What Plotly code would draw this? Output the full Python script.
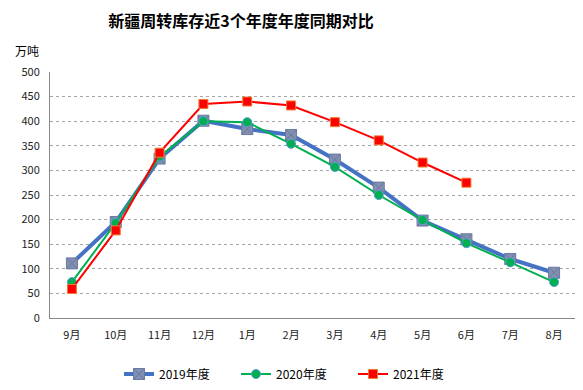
import plotly.graph_objects as go

months = ["9月", "10月", "11月", "12月", "1月", "2月", "3月", "4月", "5月", "6月", "7月", "8月"]
y2019 = [111, 195, 324, 401, 384, 372, 322, 265, 198, 160, 120, 92]
y2020 = [73, 193, 328, 400, 398, 354, 307, 250, 199, 152, 113, 73]
y2021 = [59, 178, 336, 435, 440, 432, 398, 361, 316, 275]
y_ticks = [0, 50, 100, 150, 200, 250, 300, 350, 400, 450, 500]

font = "Noto Sans CJK SC"
OFF = 8  # page body margin
W, H = 583 - OFF, 390 - OFF
L, T = 50 - OFF, 72 - OFF
R = W - (576 - OFF)
B = H - (318 - OFF)
pw, ph = W - L - R, H - T - B

fig = go.Figure()
fig.add_trace(go.Scatter(
    x=months, y=y2019, name="2019年度", mode="lines+markers",
    line=dict(color="#4472C4", width=4),
    marker=dict(symbol="square-x", size=11, color="#8190B0", line=dict(color="#6A7AA0", width=1)),
))
fig.add_trace(go.Scatter(
    x=months, y=y2020, name="2020年度", mode="lines+markers",
    line=dict(color="#00B050", width=2),
    marker=dict(symbol="circle", size=9, color="#00B050", line=dict(color="#5B9BD5", width=1)),
))
fig.add_trace(go.Scatter(
    x=months[:len(y2021)], y=y2021, name="2021年度", mode="lines+markers",
    line=dict(color="#FF0000", width=2),
    marker=dict(symbol="square", size=9, color="#FF0000", line=dict(color="#ED7D31", width=1)),
))

fig.update_layout(
    width=W, height=H,
    margin=dict(l=L, r=R, t=T, b=B, autoexpand=False),
    paper_bgcolor="white", plot_bgcolor="white",
    font=dict(family=font, size=11, color="#404040"),
    title=dict(text="<b>新疆周转库存近3个年度年度同期对比</b>", x=(241 - OFF) / W, xanchor="center",
               y=1 - (21 - OFF) / H, yanchor="middle", font=dict(size=16, color="#000000", family=font)),
    xaxis=dict(type="category", categoryorder="array", categoryarray=months,
               range=[-0.5, len(months) - 0.5],
               showline=True, linecolor="#888888", linewidth=1, showgrid=False,
               ticks="", ticklabelstandoff=7,
               tickfont=dict(size=11, color="#222222"), fixedrange=True),
    yaxis=dict(range=[0, 500], tickvals=y_ticks, showline=True, linecolor="#888888", linewidth=1,
               showgrid=True, gridcolor="#A6A6A6", griddash="dot", gridwidth=1,
               ticks="", ticklabelstandoff=7,
               tickfont=dict(size=11, color="#222222"), zeroline=False),
    legend=dict(orientation="h", x=(119 - 50) / pw, xanchor="left",
                y=-(374 - 318) / ph, yanchor="middle",
                font=dict(size=12, color="#000000"), itemwidth=30,
                entrywidth=72),
    showlegend=True,
)
fig.add_annotation(text="万吨", xref="paper", yref="paper",
                   x=(27 - 50) / pw, y=(318 - 51) / ph,
                   xanchor="center", yanchor="middle", showarrow=False,
                   font=dict(size=12, color="#000000"))
fig.write_html("out.html")
